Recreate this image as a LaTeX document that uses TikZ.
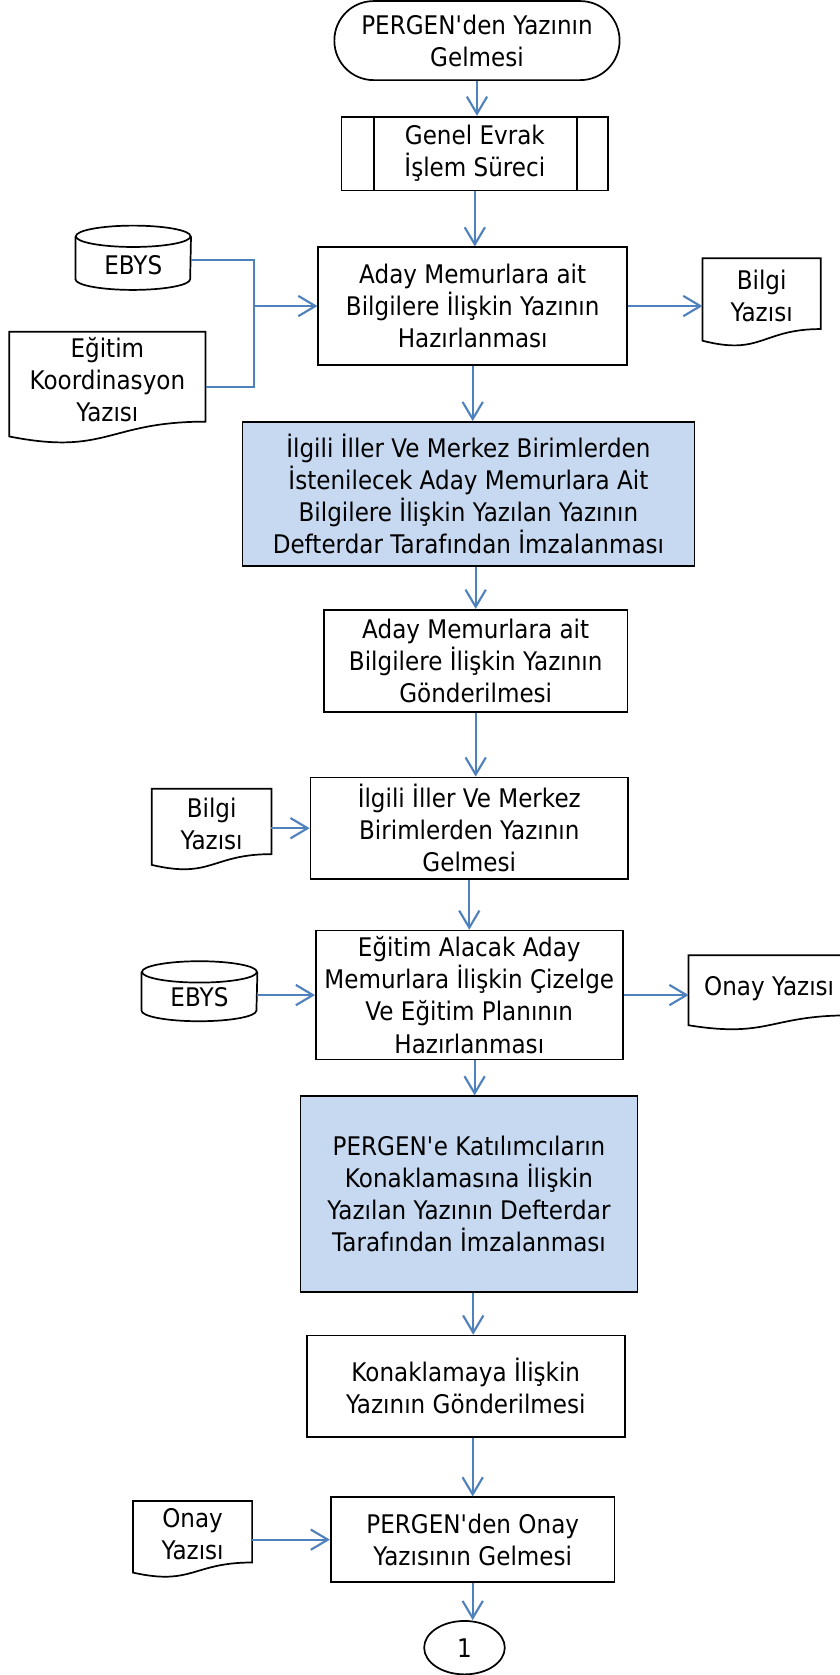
\documentclass[tikz,border=0pt]{standalone}
\usepackage{fontspec}
\setmainfont{DejaVu Sans}[FakeStretch=0.9]
\usetikzlibrary{arrows.meta,shapes.geometric,calc}
\definecolor{arrowblue}{HTML}{4F81BD}
\definecolor{boxblue}{HTML}{C6D9F1}
\newcommand\dgfont{\fontsize{12pt}{15pt}\selectfont}
% document shape outline: #1 node name (upper text area, anchored north), #2 full height
\newcommand\docout[2]{%
  \draw[shp] (#1.north west) -- (#1.north east) -- ([yshift=-0.802*#2]#1.north east)
    .. controls ([yshift=-0.802*#2]#1.north) and ([yshift=-1.107*#2]#1.north) ..
    ([yshift=-0.934*#2]#1.north west) -- cycle;}
% cylinder outline: #1 node name, #2 full height, #3 x radius, #4 y radius
\newcommand\cylout[4]{%
  \draw[shp] ([yshift=-#4]#1.north west) -- ([yshift=-#2+#4]#1.north west)
    arc[start angle=180,end angle=360,x radius=#3,y radius=#4]
    -- ([yshift=-#4]#1.north east);
  \draw[shp] ([yshift=-#4]#1.north) ellipse[x radius=#3,y radius=#4];}
\tikzset{
  shp/.style={draw=black, line width=0.8pt},
  box/.style={shp, font=\dgfont, align=center, inner sep=2pt},
  bluebox/.style={box, fill=boxblue},
  term/.style={box, rounded corners=18.4pt, minimum width=133.5pt, minimum height=37pt},
  txt/.style={font=\dgfont, align=center, inner sep=1pt, anchor=north},
  conn/.style={draw=arrowblue, line width=1pt},
  arr/.style={conn, -{Straight Barb[length=8pt,width=9.5pt]}}
}
\begin{document}
\begin{tikzpicture}[x=0.5pt,y=0.5pt]
\useasboundingbox (0,0) rectangle (786,-1568);

% main column
\node[term] (start) at (446.5,-38) {PERGEN\textquotesingle den Yazının\\Gelmesi};
\node[box, minimum width=124.75pt, minimum height=34.6pt] (genel) at (444.5,-143.8) {Genel Evrak\\İşlem Süreci};
\draw[shp] ([xshift=15.6pt]genel.north west) -- ([xshift=15.6pt]genel.south west);
\draw[shp] ([xshift=-15.1pt]genel.north east) -- ([xshift=-15.1pt]genel.south east);
\node[box, minimum width=144.5pt, minimum height=55pt] (aday1) at (442.5,-286.5) {Aday Memurlara ait\\Bilgilere İlişkin Yazının\\Hazırlanması};
\node[bluebox, minimum width=211.5pt, minimum height=67.5pt] (blue1) at (438.5,-462.5) {İlgili İller Ve Merkez Birimlerden\\İstenilecek Aday Memurlara Ait\\Bilgilere İlişkin Yazılan Yazının\\Defterdar Tarafından İmzalanması};
\node[box, minimum width=142.1pt, minimum height=48pt] (aday2) at (445.3,-618.8) {Aday Memurlara ait\\Bilgilere İlişkin Yazının\\Gönderilmesi};
\node[box, minimum width=148.6pt, minimum height=47.5pt] (ilgili) at (439.3,-775.3) {İlgili İller Ve Merkez\\Birimlerden Yazının\\Gelmesi};
\node[box, minimum width=143.6pt, minimum height=60.35pt] (egitim2) at (439.3,-931.5) {Eğitim Alacak Aday\\Memurlara İlişkin Çizelge\\Ve Eğitim Planının\\Hazırlanması};
\node[bluebox, minimum width=157.7pt, minimum height=91.5pt] (blue2) at (439,-1117.7) {PERGEN\textquotesingle e Katılımcıların\\Konaklamasına İlişkin\\Yazılan Yazının Defterdar\\Tarafından İmzalanması};
\node[box, minimum width=148.75pt, minimum height=47.5pt] (konak) at (436,-1297.7) {Konaklamaya İlişkin\\Yazının Gönderilmesi};
\node[box, minimum width=132.85pt, minimum height=39.65pt] (pergenonay) at (442.5,-1441.3) {PERGEN\textquotesingle den Onay\\Yazısının Gelmesi};
\node[shp, ellipse, font=\dgfont, inner sep=0pt, minimum width=37.75pt, minimum height=25pt] (circ) at (434.8,-1542.4) {1};

% side inputs / outputs
\node[txt, minimum width=53.7pt, minimum height=36.8pt] (ebys1) at (124.7,-211.2) {EBYS};
\cylout{ebys1}{30.1pt}{26.85pt}{5pt}
\node[txt, minimum width=91.5pt, minimum height=44.5pt] (egitimdoc) at (100.5,-310.5) {Eğitim\\Koordinasyon\\Yazısı};
\docout{egitimdoc}{52.5pt}
\node[txt, minimum width=55pt, minimum height=35.3pt] (bilgi1) at (713,-241.7) {Bilgi\\Yazısı};
\docout{bilgi1}{41.35pt}
\node[txt, minimum width=55.6pt, minimum height=32.7pt] (bilgi2) at (198.1,-738.3) {Bilgi\\Yazısı};
\docout{bilgi2}{38.2pt}
\node[txt, minimum width=53.85pt, minimum height=32.8pt] (ebys2) at (186.7,-899.8) {EBYS};
\cylout{ebys2}{28.1pt}{26.9pt}{5pt}
\node[txt, minimum width=75pt, minimum height=30.8pt] (onay1) at (720,-894.2) {Onay Yazısı};
\docout{onay1}{35.1pt}
\node[txt, minimum width=55.3pt, minimum height=31pt] (onay2) at (180.3,-1405) {Onay\\Yazısı};
\docout{onay2}{35.95pt}

% vertical flow
\draw[arr] (start.south) -- (start.south |- genel.north);
\draw[arr] (genel.south) -- (genel.south |- aday1.north);
\draw[arr] (aday1.south) -- (aday1.south |- blue1.north);
\draw[arr] (aday2.north |- blue1.south) -- (aday2.north);
\draw[arr] (aday2.south) -- (aday2.south |- ilgili.north);
\draw[arr] (ilgili.south) -- (ilgili.south |- egitim2.north);
\draw[arr] ([xshift=2.5pt]egitim2.south) -- ([xshift=2.5pt]egitim2.south |- blue2.north);
\draw[arr] ([xshift=2pt]blue2.south) -- ([xshift=2pt]blue2.south |- konak.north);
\draw[arr] (pergenonay.north |- konak.south) -- (pergenonay.north);
\draw[arr] (pergenonay.south) -- (pergenonay.south |- circ.north);

% side connectors
\coordinate (j) at (238,-286.5);
\draw[conn] ([yshift=2.6pt]ebys1.east) -| (j);
\draw[conn] ([yshift=-3.4pt]egitimdoc.east) -| (j);
\draw[arr] (j) -- (aday1.west);
\draw[arr] (aday1.east) -- (aday1.east -| bilgi1.west);
\draw[arr] (ilgili.west -| bilgi2.east) -- (ilgili.west);
\draw[arr] (egitim2.west -| ebys2.east) -- (egitim2.west);
\draw[arr] (egitim2.east) -- (egitim2.east -| onay1.west);
\draw[arr] (pergenonay.west -| onay2.east) -- (pergenonay.west);
\end{tikzpicture}
\end{document}
